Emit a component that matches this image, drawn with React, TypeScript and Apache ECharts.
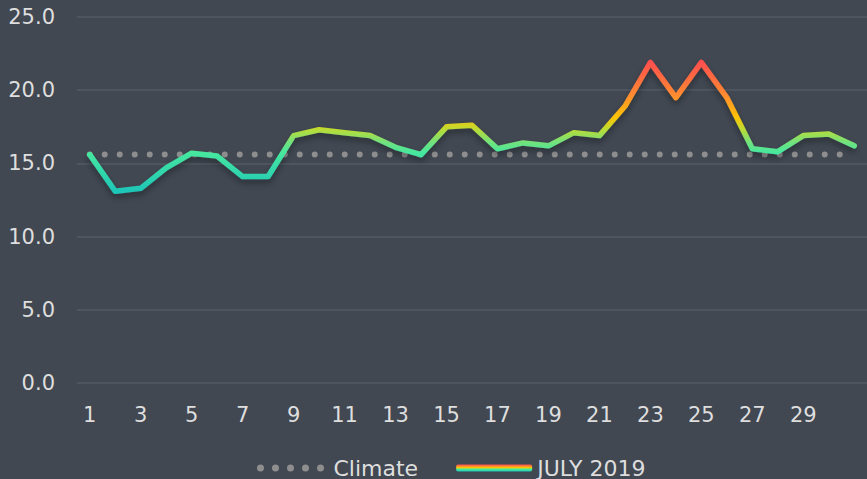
import React, { useEffect, useRef } from "react";
import * as echarts from "echarts";

const days: string[] = Array.from({ length: 31 }, (_, i) => String(i + 1));
const july2019: number[] = [
  15.6, 13.1, 13.3, 14.7, 15.7, 15.5, 14.1, 14.1, 16.9, 17.3, 17.1, 16.9, 16.1, 15.6, 17.5, 17.6,
  16.0, 16.4, 16.2, 17.1, 16.9, 18.9, 21.9, 19.5, 21.9, 19.5, 16.0, 15.8, 16.9, 17.0, 16.2,
];
const climateValue = 15.6;
const climate: number[] = days.map(() => climateValue);
const yTicks = { min: 0, max: 25, interval: 5 };

const dotsIcon =
  "path://" +
  [0, 1, 2, 3, 4]
    .map((i) => {
      const x = i * 15;
      return `M${x},3.5a3.5,3.5 0 1,0 7,0a3.5,3.5 0 1,0 -7,0Z`;
    })
    .join(" ");

export default function App() {
  const ref = useRef<HTMLDivElement>(null);
  useEffect(() => {
    if (!ref.current) return;
    const chart = echarts.init(ref.current, undefined, { renderer: "svg" });
    const font = "'DejaVu Sans', sans-serif";
    const gradient = () =>
      new echarts.graphic.LinearGradient(0, 0, 0, 1, [
        { offset: 0, color: "#ff4f4f" },
        { offset: 0.25, color: "#ff8a30" },
        { offset: 0.43, color: "#fbc406" },
        { offset: 0.52, color: "#bcdc34" },
        { offset: 0.62, color: "#72e27c" },
        { offset: 0.7, color: "#46e89e" },
        { offset: 1, color: "#1ec6b8" },
      ]);
    chart.setOption({
      animation: false,
      backgroundColor: "#414852",
      textStyle: { fontFamily: font },
      grid: { left: 77, right: -3, top: 17, bottom: 96, containLabel: false },
      legend: {
        top: 452,
        left: 252,
        itemWidth: 76,
        itemHeight: 7,
        itemGap: 38,
        textStyle: { color: "#dedede", fontSize: 22, fontFamily: font },
        data: [
          { name: "Climate", icon: dotsIcon, itemStyle: { color: "#8e8e8e" } },
          { name: "JULY 2019", icon: "roundRect", itemStyle: { color: gradient() } },
        ],
      },
      xAxis: {
        type: "category",
        data: days,
        boundaryGap: true,
        axisLine: { show: false },
        axisTick: { show: false },
        axisLabel: {
          color: "#dedede",
          fontSize: 21,
          margin: 21,
          fontFamily: font,
          interval: (i: number) => i % 2 === 0 && i < 30,
        },
      },
      yAxis: {
        type: "value",
        min: yTicks.min,
        max: yTicks.max,
        interval: yTicks.interval,
        axisLine: { show: false },
        axisTick: { show: false },
        axisLabel: {
          color: "#dedede",
          fontSize: 21,
          margin: 22,
          fontFamily: font,
          formatter: (v: number) => v.toFixed(1),
        },
        splitLine: { lineStyle: { color: "#535a65", width: 1.5 } },
      },
      series: [
        {
          name: "Climate",
          type: "line",
          data: climate,
          symbol: "none",
          z: 1,
          lineStyle: {
            color: "#8e8e8e",
            width: 6,
            type: [0, 15],
            cap: "round",
          },
          itemStyle: { color: "#8e8e8e" },
        },
        {
          name: "JULY 2019",
          type: "line",
          data: july2019,
          symbol: "none",
          z: 3,
          lineStyle: {
            width: 5.5,
            cap: "round",
            join: "round",
            shadowColor: "rgba(0,0,0,0.35)",
            shadowBlur: 6,
            shadowOffsetY: 4,
            color: gradient(),
          },
        },
      ],
    });
    return () => chart.dispose();
  }, []);
  return (
    <div
      ref={ref}
      style={{ position: "fixed", left: 0, top: 0, width: 867, height: 479 }}
    />
  );
}
